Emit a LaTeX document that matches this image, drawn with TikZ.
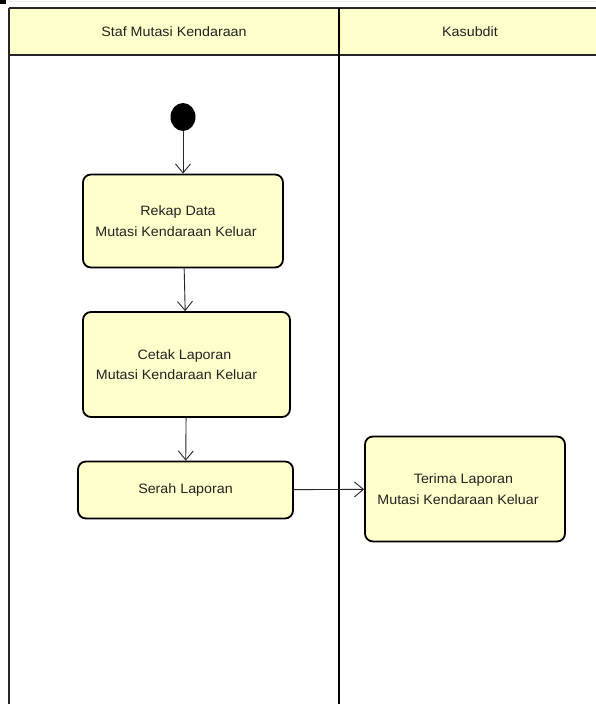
\documentclass[tikz,border=0pt]{standalone}
\usepackage{fontspec}
\setmainfont{Liberation Sans}
\newfontfamily\lanefont[FakeStretch=1.05]{Liberation Sans}
\usetikzlibrary{arrows.meta,shapes.geometric}
\definecolor{actfill}{RGB}{255,255,204}
\definecolor{txt}{RGB}{35,35,35}
\newcommand{\trail}[1]{\kern#1\relax}
\tikzset{
  action/.style={draw=black, line width=1.8pt, fill=actfill, rounded corners=8pt,
    inner sep=0pt, align=center, text=txt, font=\lanefont\fontsize{13.6}{20.5}\selectfont},
  initial/.style={ellipse, fill=black, inner sep=0pt, minimum width=25pt, minimum height=28pt},
  flow/.style={line width=0.9pt, draw=black!85, -{Straight Barb[length=9pt,width=15pt,line width=0.9pt]}},
  lanehead/.style={text=txt, font=\lanefont\fontsize{13.6}{15}\selectfont},
  laneline/.style={line width=2pt, draw=black!85}
}
\begin{document}
\begin{tikzpicture}[x=1pt, y=-1pt]
\useasboundingbox (0,0) rectangle (596,704);
\clip (0,0) rectangle (596,704);
\fill[white] (0,0) rectangle (596,704);
% edge marks of the canvas
\fill[black] (0,0) rectangle (6,4);
\draw[black!8, line width=1pt] (7,1.5) -- (596,1.5);
% swimlane header
\fill[actfill] (9,8) rectangle (600,55);
\draw[laneline] (9,8) -- (600,8);
\draw[laneline] (9,55) -- (600,55);
\draw[laneline] (9,8) -- (9,710);
\draw[line width=2.6pt, black] (339,8) -- (339,710);
\node[lanehead] (h1) at (174,32) {Staf Mutasi Kendaraan};
\node[lanehead] (h2) at (470,32) {Kasubdit};
% activities
\node[action, minimum width=200pt, minimum height=93pt] (b1) at (183,221)
  {Rekap Data\trail{10pt}\\Mutasi Kendaraan Keluar\trail{14pt}};
\node[initial] (start) at (183,117) {};
\node[action, minimum width=207pt, minimum height=105pt] (b2) at (186.5,364.5)
  {Cetak Laporan\trail{4pt}\\Mutasi Kendaraan Keluar\trail{20pt}};
\node[action, minimum width=215pt, minimum height=57pt] (b3) at (185.5,490)
  {Serah Laporan};
\node[action, minimum width=200pt, minimum height=105pt] (b4) at (465,489)
  {Terima Laporan\trail{3pt}\\Mutasi Kendaraan Keluar\trail{14pt}};
% control flows
\draw[flow] (start) -- (b1.north);
\draw[flow] (b1) -- (b2);
\draw[flow] (b2) -- (b3);
\draw[flow] (b3) -- (b4);
\end{tikzpicture}
\end{document}
